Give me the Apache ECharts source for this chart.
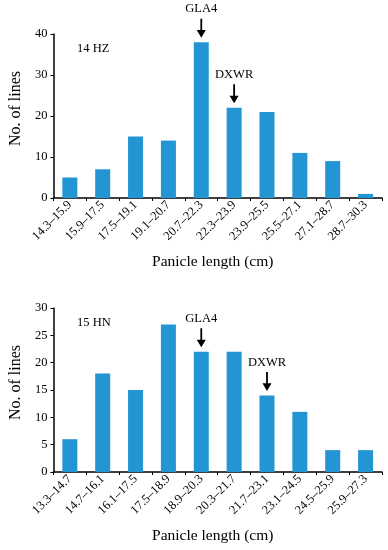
<!DOCTYPE html>
<html><head><meta charset="utf-8">
<script src="https://cdn.jsdelivr.net/npm/echarts@6/dist/echarts.min.js"></script>
<style>html,body{margin:0;padding:0;background:#fff}#c{width:388px;height:550px}</style>
</head><body><div id="c"></div>
<script>
const catsHZ = ['14.3–15.9','15.9–17.5','17.5–19.1','19.1–20.7','20.7–22.3','22.3–23.9','23.9–25.5','25.5–27.1','27.1–28.7','28.7–30.3'];
const valsHZ = [5,7,15,14,38,22,21,11,9,1];
const catsHN = ['13.3–14.7','14.7–16.1','16.1–17.5','17.5–18.9','18.9–20.3','20.3–21.7','21.7–23.1','23.1–24.5','24.5–25.9','25.9–27.3'];
const valsHN = [6,18,15,27,22,22,14,11,4,4];
const marksHZ = [{name:'GLA4', idx:4}, {name:'DXWR', idx:5}];
const marksHN = [{name:'GLA4', idx:4}, {name:'DXWR', idx:6}];

const FONT = '"Liberation Serif","Times New Roman",serif';
const BAR = '#2295d2';
const arrow = 'path://M4,0 L6,0 L6,12 L10,12 L5,20 L0,12 L4,12 Z';

function xAxis(gi, cats){
  return {type:'category', gridIndex:gi, data:cats,
    name:'Panicle length (cm)', nameLocation:'middle', nameGap:56,
    nameTextStyle:{fontFamily:FONT, fontSize:15.5, color:'#000', padding:[0,10,0,0]},
    axisLine:{lineStyle:{color:'#000', width:1.5}},
    axisTick:{show:true, length:3, lineStyle:{color:'#000', width:1}},
    axisLabel:{rotate:45, fontFamily:FONT, fontSize:12.5, color:'#000', margin:5, interval:0}};
}
function yAxis(gi, max, interval){
  return {type:'value', gridIndex:gi, min:0, max:max, interval:interval,
    name:'No. of lines', nameLocation:'middle', nameGap:29,
    nameTextStyle:{fontFamily:FONT, fontSize:16, color:'#000', padding:[0,0,0,15]},
    splitLine:{show:false},
    axisLine:{show:true, lineStyle:{color:'#000', width:1.5}},
    axisTick:{show:true, length:3, lineStyle:{color:'#000', width:1}},
    axisLabel:{fontFamily:FONT, fontSize:12.5, color:'#000', margin:6}};
}
function markData(marks, vals){
  return marks.map(m => ({name:m.name, coord:[m.idx, vals[m.idx]], value:m.name}));
}
function series(gi, vals, marks){
  return {type:'bar', xAxisIndex:gi, yAxisIndex:gi, data:vals, barWidth:15,
    itemStyle:{color:BAR},
    markPoint:{symbol:arrow, symbolSize:[9,19], symbolOffset:[0,-14],
      itemStyle:{color:'#000'},
      label:{show:true, position:'top', distance:3, formatter:p=>p.name,
        fontFamily:FONT, fontSize:12.5, color:'#000'},
      data:markData(marks, vals)}};
}

const chart = echarts.init(document.getElementById('c'), null, {renderer:'canvas'});
chart.setOption({
  animation:false,
  title:[
    {text:'14 HZ', left:72, top:37, textStyle:{fontFamily:FONT, fontSize:12.5, fontWeight:'normal', color:'#000'}},
    {text:'15 HN', left:72, top:311, textStyle:{fontFamily:FONT, fontSize:12.5, fontWeight:'normal', color:'#000'}}
  ],
  grid:[
    {left:49, right:6, top:34, height:164},
    {left:49, right:6, top:308, height:164}
  ],
  xAxis:[xAxis(0, catsHZ), xAxis(1, catsHN)],
  yAxis:[yAxis(0, 40, 10), yAxis(1, 30, 5)],
  series:[series(0, valsHZ, marksHZ), series(1, valsHN, marksHN)]
});
</script></body></html>
